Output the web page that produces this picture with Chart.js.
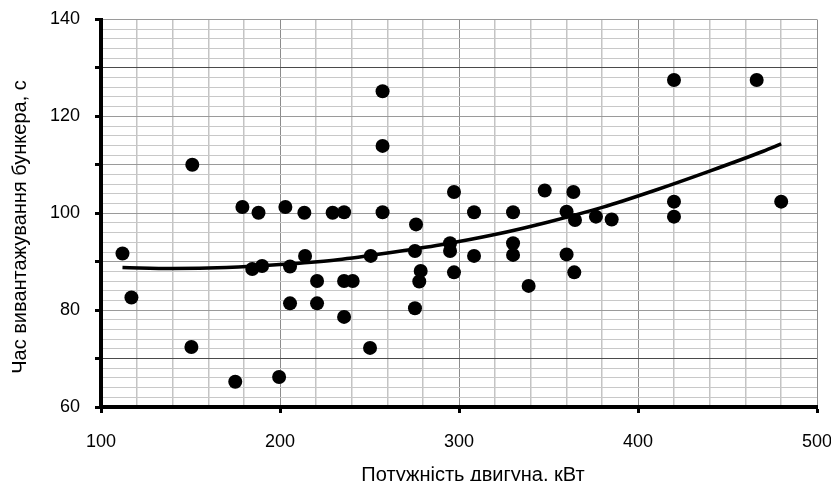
<!DOCTYPE html>
<html>
<head>
<meta charset="utf-8">
<script src="https://cdn.jsdelivr.net/npm/chart.js@4/dist/chart.umd.min.js"></script>
<style>
  html, body { margin: 0; padding: 0; background: #fff; }
  #wrap { width: 831px; height: 481px; position: relative; }
</style>
</head>
<body>
<div id="wrap"><canvas id="c" width="831" height="481"></canvas></div>
<script>
// Engine power, kW (x) and bunker unloading time, s (y)
const powerKW = [112, 117, 151, 150.5, 175, 179, 184.5, 188, 190, 199.5,
  203, 205.6, 205.6, 213.6, 214, 220.7, 220.7, 229.4, 235.8, 235.8,
  240.6, 235.8, 250.3, 250.7, 257.3, 257.3, 257.3, 275.4, 276, 278.6,
  277.8, 275.4, 295, 295, 297.2, 297.2, 308.4, 308.4, 330.2, 330.2,
  330.2, 338.9, 347.9, 360.1, 360.1, 363.9, 364.8, 364.4, 376.5, 385.3,
  420.1, 420.1, 420.1, 466.3, 480];
const unloadTime = [91.7, 82.6, 110, 72.4, 65.2, 101.3, 88.5, 100.1, 89.1, 66.2,
  101.3, 89, 81.4, 100.1, 91.2, 86, 81.4, 100.1, 100.2, 86,
  86, 78.6, 72.2, 91.2, 125.2, 113.9, 100.2, 92.2, 97.7, 88.1,
  85.9, 80.4, 93.8, 92.2, 87.8, 104.4, 100.2, 91.2, 100.2, 93.8,
  91.4, 85, 104.7, 100.3, 91.5, 104.4, 98.6, 87.8, 99.3, 98.7,
  127.5, 102.4, 99.3, 127.5, 102.4];

// Trend curve
const trendX = [112, 140, 170, 200, 230, 260, 290, 320, 350, 380, 410, 440, 470, 480];
const trendY = [88.8, 88.6, 88.8, 89.4, 90.3, 91.8, 93.5, 95.6, 98.2, 101.2, 104.8, 108.7, 112.8, 114.3];

// Axis ranges / ticks
const xMin = 100, xMax = 500, xStep = 20, xLabelEvery = 100;
const yMin = 60, yMax = 140, yStep = 2, yLabelEvery = 20, yTickEvery = 10;
const xTitle = 'Потужність двигуна, кВт';
const yTitle = 'Час вивантажування бункера, с';

const pts = powerKW.map((x, i) => ({ x: x, y: unloadTime[i] }));
const trend = trendX.map((x, i) => ({ x: x, y: trendY[i] }));

const FONT = "'Liberation Sans', Arial, sans-serif";

const titlesPlugin = {
  id: 'axisTitles',
  afterDraw(chart) {
    const ctx = chart.ctx;
    ctx.save();
    ctx.fillStyle = '#000';
    ctx.font = "20px " + FONT;
    ctx.textAlign = 'center';
    ctx.textBaseline = 'alphabetic';
    ctx.fillText(xTitle, 473, 481);
    ctx.translate(26, 227);
    ctx.rotate(-Math.PI / 2);
    ctx.fillText(yTitle, 0, 0);
    ctx.restore();
  }
};

new Chart(document.getElementById('c'), {
  type: 'scatter',
  data: {
    datasets: [
      {
        label: 'data',
        data: pts,
        backgroundColor: '#000',
        borderColor: '#000',
        pointRadius: 7,
        pointHoverRadius: 7,
        borderWidth: 0
      },
      {
        label: 'trend',
        data: trend,
        showLine: true,
        borderColor: '#000',
        borderWidth: 3.5,
        pointRadius: 0,
        tension: 0.4,
        cubicInterpolationMode: 'monotone',
        fill: false
      }
    ]
  },
  options: {
    responsive: false,
    devicePixelRatio: 1,
    animation: false,
    events: [],
    layout: { padding: { top: 19.5, right: 14, left: 0, bottom: 0 } },
    plugins: { legend: { display: false }, tooltip: { enabled: false } },
    scales: {
      x: {
        type: 'linear',
        min: xMin, max: xMax,
        afterFit(s) { s.height = 74; s.paddingLeft = 0; s.paddingRight = 0; },
        border: { display: true, color: '#000', width: 4 },
        grid: {
          drawOnChartArea: true,
          drawTicks: true,
          tickLength: 6,
          color: c => (c.tick.value % xLabelEvery === 0 ? '#8c8c8c' : '#c4c4c4'),
          lineWidth: c => (c.tick.value % xLabelEvery === 0 ? 1 : 1.5),
          tickColor: c => (c.tick.value % xLabelEvery === 0 ? '#000' : 'rgba(0,0,0,0)'),
          tickWidth: 3
        },
        ticks: {
          stepSize: xStep,
          autoSkip: false,
          maxRotation: 0,
          padding: 18,
          color: '#000',
          font: { family: FONT, size: 18 },
          callback: v => (v % xLabelEvery === 0 ? String(v) : '')
        }
      },
      y: {
        type: 'linear',
        min: yMin, max: yMax,
        afterFit(s) { s.width = 101; s.paddingTop = 0; s.paddingBottom = 0; },
        border: { display: true, color: '#000', width: 4 },
        grid: {
          drawOnChartArea: true,
          drawTicks: true,
          tickLength: 6,
          color: c => {
            const v = c.tick.value;
            if (v === 130 || v === 70) return '#4a4a4a';
            if (v % yTickEvery === 0) return '#9a9a9a';
            return '#c8c8c8';
          },
          lineWidth: 1,
          tickColor: c => (c.tick.value % yTickEvery === 0 ? '#000' : 'rgba(0,0,0,0)'),
          tickWidth: 3
        },
        ticks: {
          stepSize: yStep,
          autoSkip: false,
          padding: 15,
          color: '#000',
          font: { family: FONT, size: 18 },
          callback: v => (v % yLabelEvery === 0 ? String(v) : '')
        }
      }
    }
  },
  plugins: [titlesPlugin]
});
</script>
</body>
</html>
